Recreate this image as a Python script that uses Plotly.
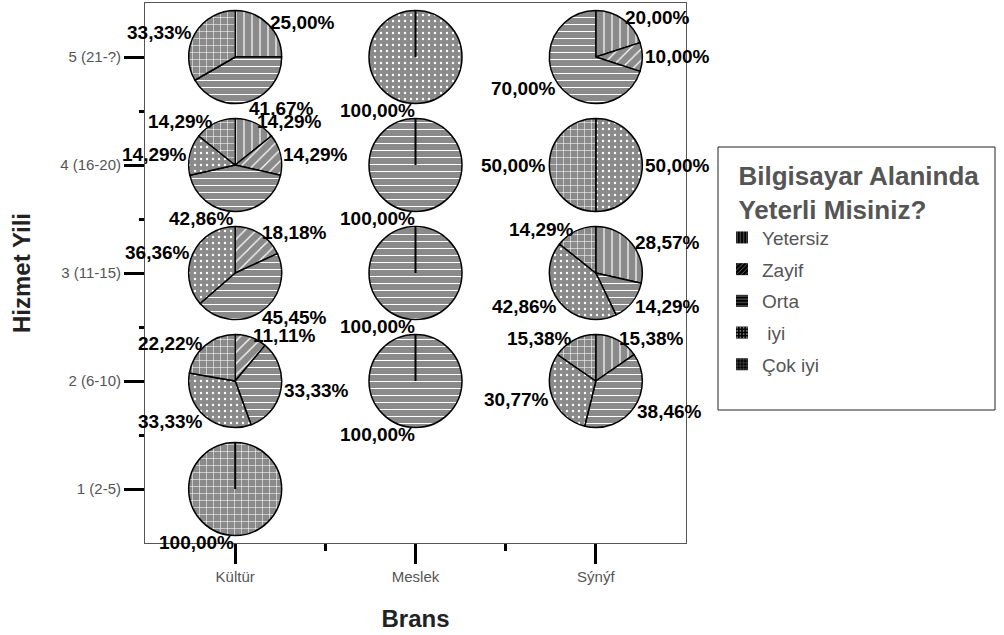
import math
import plotly.graph_objects as go

# ---------------- data ----------------
brans = ["Kültür", "Meslek", "Sýnýf"]
hizmet = ["1 (2-5)", "2 (6-10)", "3 (11-15)", "4 (16-20)", "5 (21-?)"]
levels = ["Yetersiz", "Zayif", "Orta", " iyi", "Çok iyi"]

# percentages per level (Yetersiz, Zayif, Orta, iyi, Çok iyi), rows = hizmet 1..5
kultur = [
    [0, 0, 0, 0, 100.00],
    [0, 11.11, 33.33, 33.33, 22.22],
    [0, 18.18, 45.45, 36.36, 0],
    [14.29, 14.29, 42.86, 14.29, 14.29],
    [25.00, 0, 41.67, 0, 33.33],
]
meslek = [
    None,
    [0, 0, 100.00, 0, 0],
    [0, 0, 100.00, 0, 0],
    [0, 0, 100.00, 0, 0],
    [0, 0, 0, 100.00, 0],
]
sinif = [
    None,
    [15.38, 0, 38.46, 30.77, 15.38],
    [28.57, 0, 14.29, 42.86, 14.29],
    [0, 0, 0, 50.00, 50.00],
    [20.00, 10.00, 70.00, 0, 0],
]
series = [kultur, meslek, sinif]

# ---------------- styles ----------------
patterns = {"Yetersiz": "|", "Zayif": "/", "Orta": "-", " iyi": ".", "Çok iyi": "+"}
psize = {"Yetersiz": 8, "Zayif": 8, "Orta": 7, " iyi": 6, "Çok iyi": 7}
psolid = {"Yetersiz": 0.15, "Zayif": 0.15, "Orta": 0.15, " iyi": 0.12, "Çok iyi": 0.15}
GRAY = "#8a8a8a"
FONT = "Liberation Sans, Arial"
LABEL_SIZE = 19

W, H = 1004, 635
ML, MR, MT, MB = 145, 318, 3, 92
PW, PH = W - ML - MR, H - MT - MB
XR = [0.5, len(brans) + 0.5]
YR = [0.5, len(hizmet) + 0.5]
PIE_D = 93  # pie diameter in px

fig = go.Figure()
annotations = []
shapes = []

for bi, col in enumerate(series):
    for hi, vals in enumerate(col):
        if vals is None:
            continue
        labs = [l for l, v in zip(levels, vals) if v > 0]
        vs = [v for v in vals if v > 0]
        xv, yv = bi + 1, hi + 1
        fx = (xv - XR[0]) / (XR[1] - XR[0])
        fy = (yv - YR[0]) / (YR[1] - YR[0])
        dx = PIE_D / 2 / PW
        dy = PIE_D / 2 / PH
        fig.add_trace(go.Pie(
            labels=labs, values=vs, sort=False, direction="clockwise", rotation=0,
            domain=dict(x=[fx - dx, fx + dx], y=[fy - dy, fy + dy]),
            textinfo="none",
            marker=dict(
                colors=[GRAY] * len(labs),
                line=dict(color="black", width=1.5),
                pattern=dict(
                    shape=[patterns[l] for l in labs],
                    size=[psize[l] for l in labs],
                    solidity=[psolid[l] for l in labs],
                    fgcolor="white", bgcolor=GRAY, fillmode="replace",
                ),
            ),
            showlegend=False, hoverinfo="label+value",
        ))
        # label placement (SPSS style: beside the slice mid-angle)
        cx = ML + fx * PW
        cy = MT + (1 - fy) * PH
        tot = sum(vs)
        acc = 0.0
        for v in vs:
            mid = (acc + v / 2) / tot * 2 * math.pi
            acc += v
            s, c = math.sin(mid), math.cos(mid)
            rr = PIE_D / 2 + 2
            px = cx + rr * s
            py = cy - rr * c
            txt = f"{v:.2f}".replace(".", ",") + "%"
            yshift = c * LABEL_SIZE / 4 if c < 0 else 0
            annotations.append(dict(
                x=(px - ML) / PW, y=1 - (py - MT) / PH, xref="paper", yref="paper",
                text=txt, showarrow=False,
                xanchor="left" if s > 1e-6 else "right", yanchor="middle",
                yshift=yshift, borderpad=0,
                font=dict(family=FONT, size=LABEL_SIZE, color="black", weight="bold"),
            ))
        if len(vs) == 1:
            # radius line drawn by SPSS for a full-circle slice
            shapes.append(dict(type="line", xref="paper", yref="paper",
                               x0=fx, y0=fy, x1=fx, y1=fy + dy,
                               line=dict(color="black", width=2)))

# legend entries
for i, l in enumerate(levels):
    fig.add_trace(go.Bar(
        x=[None], y=[None], name=l, legendgroup=f"g{i}",
        marker=dict(color="black", line=dict(width=0),
                    pattern=dict(shape=patterns[l], fgcolor="white", bgcolor="black",
                                 size=4, solidity=0.25)),
    ))

# legend frame
LX0, LX1, LY0, LY1 = 718, 995, 147, 410
shapes.append(dict(type="rect", xref="paper", yref="paper",
                   x0=(LX0 - ML) / PW, x1=(LX1 - ML) / PW,
                   y0=1 - (LY1 - MT) / PH, y1=1 - (LY0 - MT) / PH,
                   line=dict(color="#222", width=1), fillcolor="rgba(0,0,0,0)"))

axis_font = dict(family=FONT, size=15, color="#555")
fig.update_layout(
    width=W, height=H,
    margin=dict(l=ML, r=MR, t=MT, b=MB),
    paper_bgcolor="white", plot_bgcolor="white",
    font=dict(family=FONT),
    annotations=annotations,
    shapes=shapes,
    xaxis=dict(
        range=XR, tickvals=[1, 2, 3], ticktext=brans, tickfont=axis_font,
        showgrid=False, zeroline=False, showline=True, linecolor="#555", linewidth=1, mirror=True,
        ticks="outside", ticklen=20, tickwidth=3, tickcolor="black",
        minor=dict(tickvals=[1.5, 2.5], ticks="outside", ticklen=7, tickwidth=3, tickcolor="black"),
        title=dict(text="Brans", font=dict(size=24, color="#222", weight="bold"), standoff=26),
    ),
    yaxis=dict(
        range=YR, tickvals=[1, 2, 3, 4, 5], ticktext=hizmet, tickfont=axis_font,
        showgrid=False, zeroline=False, showline=True, linecolor="#555", linewidth=1, mirror=True,
        ticks="outside", ticklen=20, tickwidth=3, tickcolor="black",
        minor=dict(tickvals=[1.5, 2.5, 3.5, 4.5], ticks="outside", ticklen=5, tickwidth=3, tickcolor="black"),
        title=dict(text="Hizmet Yili", font=dict(size=24, color="#222", weight="bold"), standoff=22),
    ),
    legend=dict(
        x=(722 - ML) / PW, y=1 - (LY0 + 4 - MT) / PH, xanchor="left", yanchor="top",
        borderwidth=0, bgcolor="rgba(0,0,0,0)",
        title=dict(text="&nbsp;&nbsp;Bilgisayar Alaninda<br>&nbsp;&nbsp;Yeterli Misiniz?",
                   font=dict(size=26, color="#555", weight="bold")),
        font=dict(size=19, color="#555"),
        traceorder="grouped", tracegroupgap=4,
    ),
)

fig.write_html("out.html", post_script="document.body.style.margin='0';",
               config={"displayModeBar": False})
